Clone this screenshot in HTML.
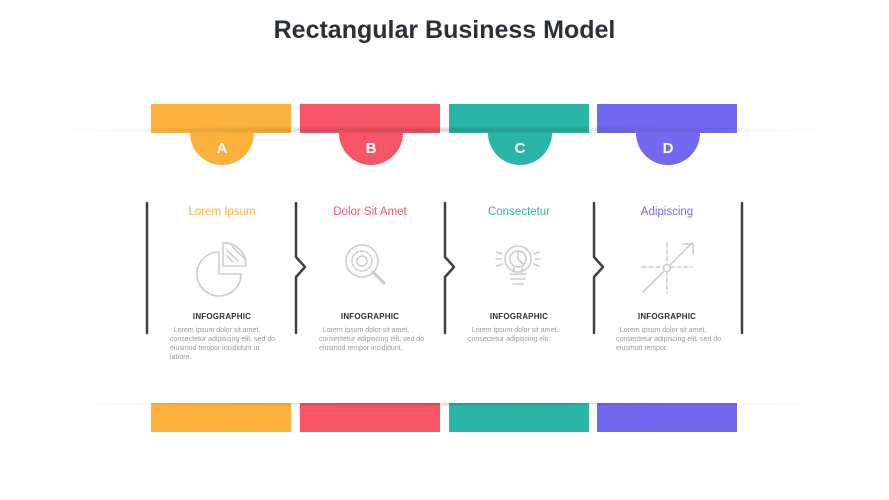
<!DOCTYPE html>
<html><head><meta charset="utf-8"><style>
body{margin:0;width:889px;height:500px;background:#fff;overflow:hidden;position:relative;font-family:"Liberation Sans",sans-serif}
.t{position:absolute;left:0;width:889px;top:16px;text-align:center;font-size:25px;font-weight:bold;color:#2b2f36}
.bar{position:absolute;width:140px;height:29px}
.sh{position:absolute;left:45px;width:800px;height:8px;background:radial-gradient(ellipse at center,rgba(0,0,0,0.16),rgba(0,0,0,0) 70%)}
.circ{position:absolute;width:64px;height:64px;border-radius:50%;top:-32px;color:#fff;font-weight:bold;font-size:15px;text-align:center;line-height:0}
.circ span{position:absolute;left:0;width:64px;top:48px}
.h{position:absolute;width:148px;text-align:center;font-size:11.5px;top:206px}
.inf{position:absolute;width:148px;text-align:center;font-size:8px;font-weight:bold;color:#2b2f36;top:312px;letter-spacing:.2px}
.p{position:absolute;width:112px;font-size:7px;line-height:9px;color:#999;top:326px}
</style></head><body>
<div class="t">Rectangular Business Model</div>
<div class="bar" style="left:151px;top:104px;background:#fbb13c"></div>
<div class="bar" style="left:300px;top:104px;background:#f65566"></div>
<div class="bar" style="left:449px;top:104px;background:#2bb5a6"></div>
<div class="bar" style="left:597px;top:104px;background:#7368f0"></div>
<div class="bar" style="left:151px;top:403px;background:#fbb13c"></div>
<div class="bar" style="left:300px;top:403px;background:#f65566"></div>
<div class="bar" style="left:449px;top:403px;background:#2bb5a6"></div>
<div class="bar" style="left:597px;top:403px;background:#7368f0"></div>
<div class="sh" style="top:126px"></div>
<div class="sh" style="top:399px"></div>
<div style="position:absolute;left:0;top:133px;width:889px;height:270px;background:#fff"></div>
<div style="position:absolute;left:55px;top:133px;width:780px;height:40px;overflow:hidden">
<div class="circ" style="left:135px;background:#fbb13c"><span>A</span></div>
<div class="circ" style="left:284px;background:#f65566"><span>B</span></div>
<div class="circ" style="left:433px;background:#2bb5a6"><span>C</span></div>
<div class="circ" style="left:581px;background:#7368f0"><span>D</span></div>
</div>
<svg style="position:absolute;left:0;top:0" width="889" height="500" fill="none" stroke-linecap="round" stroke-linejoin="round">
<g stroke="#3d4148" stroke-width="2.5">
<path d="M147 203V333"/>
<path d="M296 203V257L305 267L296 277V333"/>
<path d="M445 203V257L454 267L445 277V333"/>
<path d="M594 203V257L603 267L594 277V333"/>
<path d="M742 203V333"/>
</g>
<g stroke="#ccc" stroke-width="1.6">
<path d="M219 252A22 22 0 1 0 241 274L219 274Z"/>
<path d="M223 243A22 22 0 0 1 246 266L223 266Z"/>
<path d="M227 250L238 261M227 256L233 262M232 246L245 259"/>
<circle cx="362" cy="261" r="16"/><circle cx="362" cy="261" r="5"/>
<circle cx="362" cy="261" r="10" stroke-dasharray="3 2"/>
<path d="M373 272L384 283" stroke-width="3"/>
<circle cx="518" cy="259" r="13"/><circle cx="518" cy="259" r="8"/>
<path d="M518 251V259L523 264M510 274H526M511 279H525M513 284H523M514 272V268M522 272V268"/>
<path d="M497 252L502 254M496 259H501M497 266L502 264M539 252L534 254M540 259H535M539 266L534 264"/>
<path d="M642 267H692M667 243V293" stroke-dasharray="4 3"/>
<path d="M643 292L692 243M683 244H693V254"/>
<circle cx="667" cy="268" r="3.5" fill="#fff"/>
</g>
</svg>
<div class="h" style="left:148px;color:#fbb13c">Lorem Ipsum</div>
<div class="h" style="left:296px;color:#f65566">Dolor Sit Amet</div>
<div class="h" style="left:445px;color:#2bb5a6">Consectetur</div>
<div class="h" style="left:593px;color:#7368f0">Adipiscing</div>
<div class="inf" style="left:148px">INFOGRAPHIC</div>
<div class="inf" style="left:296px">INFOGRAPHIC</div>
<div class="inf" style="left:445px">INFOGRAPHIC</div>
<div class="inf" style="left:593px">INFOGRAPHIC</div>
<div class="p" style="left:170px">&nbsp;&nbsp;Lorem ipsum dolor sit amet, consectetur adipiscing elit, sed do eiusmod tempor incididunt ut labore.</div>
<div class="p" style="left:319px">&nbsp;&nbsp;Lorem ipsum dolor sit amet, consectetur adipiscing elit, sed do eiusmod tempor incididunt.</div>
<div class="p" style="left:468px">&nbsp;&nbsp;Lorem ipsum dolor sit amet, consectetur adipiscing elit.</div>
<div class="p" style="left:616px">&nbsp;&nbsp;Lorem ipsum dolor sit amet, consectetur adipiscing elit, sed do eiusmod tempor.</div>
</body></html>
